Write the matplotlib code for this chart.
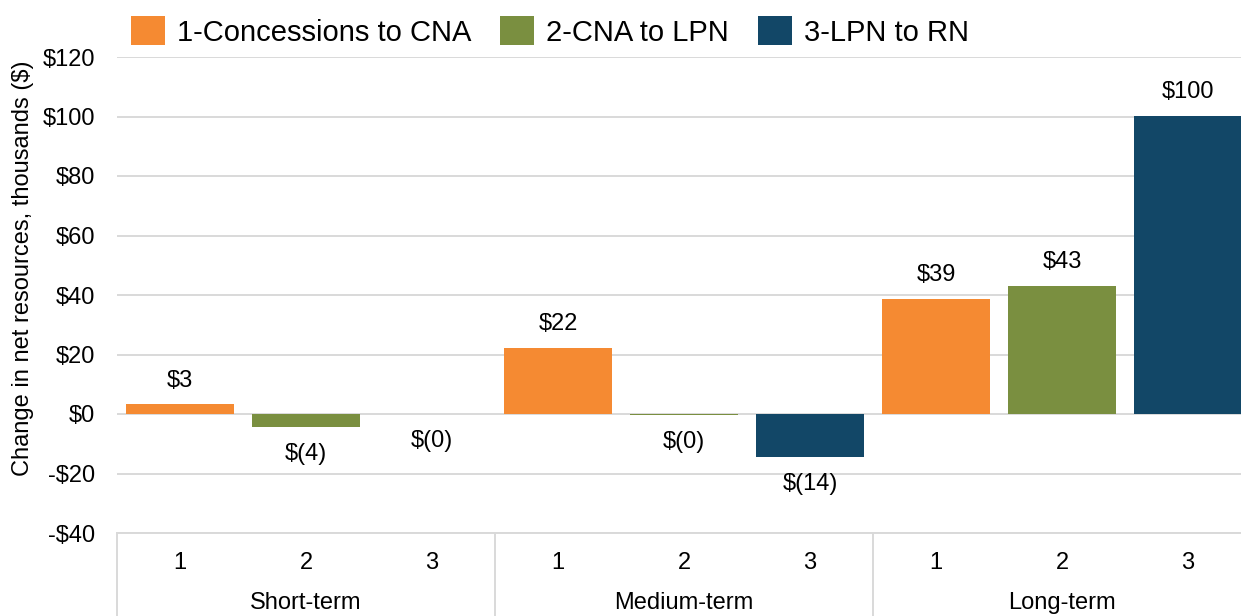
import matplotlib
matplotlib.use('Agg')
import matplotlib.pyplot as plt
from matplotlib.patches import Patch

plt.rcParams['font.family'] = ['Liberation Sans', 'DejaVu Sans']

terms = ['Short-term', 'Medium-term', 'Long-term']
scenarios = ['1-Concessions to CNA', '2-CNA to LPN', '3-LPN to RN']
scenario_ticks = ['1', '2', '3']
# values in thousands of dollars, by scenario (one value per term)
conc_cna = [3.2, 22.3, 38.8]
cna_lpn = [-4.4, -0.3, 43.1]
lpn_rn = [-0.1, -14.3, 100.2]
yticks = [-40, -20, 0, 20, 40, 60, 80, 100, 120]

colors = ['#F58A32', '#7A8F40', '#124767']
grid_c = '#D9D9D9'
fs = 17


def money(v):
    r = int(round(abs(v)))
    if v < 0:
        return '$(%d)' % r
    return '$%d' % r


def tick_money(v):
    return '-$%d' % abs(v) if v < 0 else '$%d' % v


W, H = 1241, 616
fig = plt.figure(figsize=(W / 100, H / 100), dpi=100)
ax = fig.add_axes([117 / W, 1 - 533 / H, 1134 / W, 476 / H])

series = [conc_cna, cna_lpn, lpn_rn]
for t in range(3):
    for s in range(3):
        x = t * 3 + s
        v = series[s][t]
        ax.bar(x, v, width=0.857, color=colors[s], zorder=3)
        if v >= 0:
            ax.annotate(money(v), (x, v), xytext=(0, 17), textcoords='offset points',
                        ha='center', va='center', fontsize=fs)
        else:
            ax.annotate(money(v), (x, v), xytext=(0, -19.5), textcoords='offset points',
                        ha='center', va='center', fontsize=fs)

ax.set_xlim(-0.5, 8.5)
ax.set_ylim(-40, 120)
ax.set_yticks(yticks)
ax.set_yticklabels([tick_money(v) for v in yticks], fontsize=fs)
ax.set_xticks(range(9))
ax.set_xticklabels(scenario_ticks * 3, fontsize=fs)
ax.tick_params(axis='y', length=0, pad=16)
ax.tick_params(axis='x', length=0, pad=14)
ax.yaxis.grid(True, color=grid_c, linewidth=1.4, zorder=0)
ax.set_axisbelow(True)
for sp in ['top', 'right', 'left']:
    ax.spines[sp].set_visible(False)
ax.spines['bottom'].set_color(grid_c)
ax.spines['bottom'].set_linewidth(1.4)

tr = ax.get_xaxis_transform()
for i, name in enumerate(terms):
    ax.text(i * 3 + 1, -70 / 476, name, transform=tr, ha='center', va='center', fontsize=fs)
for x in [-0.5, 2.5, 5.5, 8.5]:
    ax.plot([x, x], [0, -0.25], transform=tr, color=grid_c, linewidth=1.4, clip_on=False)

fig.text(23 / W, 1 - 268 / H, 'Change in net resources, thousands ($)', rotation=90,
         ha='center', va='center', fontsize=fs)

handles = [Patch(facecolor=c, edgecolor='none') for c in colors]
fig.legend(handles, scenarios, loc='center left', bbox_to_anchor=(131 / W, 1 - 31.5 / H),
           ncol=3, frameon=False, fontsize=21, handlelength=1.16, handleheight=1.13,
           handletextpad=0.41, columnspacing=1.0, borderpad=0, borderaxespad=0)

fig.savefig('out.png', dpi=100)
